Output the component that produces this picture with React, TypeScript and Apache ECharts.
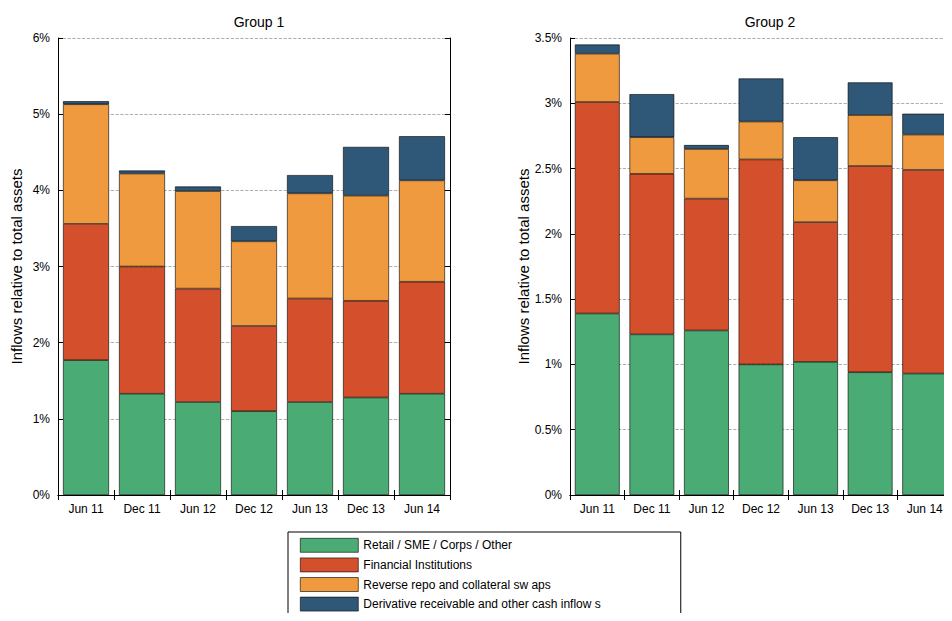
import React, { useEffect, useRef } from 'react';
import * as echarts from 'echarts';

const categories = ['Jun 11', 'Dec 11', 'Jun 12', 'Dec 12', 'Jun 13', 'Dec 13', 'Jun 14'];
const seriesNames = [
  'Retail / SME / Corps / Other',
  'Financial Institutions',
  'Reverse repo and collateral sw aps',
  'Derivative receivable and other cash inflow s',
];
const colors = ['#4aab74', '#d44f2b', '#ef9a3f', '#2e5778'];

// cumulative tops (% of total assets)
const group1Tops = [
  [1.77, 1.33, 1.22, 1.10, 1.22, 1.28, 1.33],
  [3.56, 3.00, 2.71, 2.22, 2.58, 2.55, 2.80],
  [5.13, 4.22, 3.99, 3.33, 3.96, 3.93, 4.13],
  [5.17, 4.26, 4.05, 3.53, 4.20, 4.57, 4.71],
];
const group2Tops = [
  [1.39, 1.23, 1.26, 1.00, 1.02, 0.94, 0.93],
  [3.01, 2.46, 2.27, 2.57, 2.09, 2.52, 2.49],
  [3.38, 2.74, 2.65, 2.86, 2.41, 2.91, 2.76],
  [3.45, 3.07, 2.68, 3.19, 2.74, 3.16, 2.92],
];

const toStack = (tops: number[][]) =>
  tops.map((row, i) => row.map((v, j) => +(v - (i > 0 ? tops[i - 1][j] : 0)).toFixed(3)));

const font = 'Liberation Sans, Arial, sans-serif';

const App: React.FC = () => {
  const ref = useRef<HTMLDivElement>(null);

  useEffect(() => {
    if (!ref.current) return;
    const chart = echarts.init(ref.current, undefined, { renderer: 'svg' });
    const grids = [
      { left: 58, top: 38, width: 392, height: 457 },
      { left: 570, top: 38, width: 384, height: 457 },
    ];
    const tick = { show: true, inside: true, length: 5, lineStyle: { color: '#000' } };
    const xAxis: any[] = [];
    const yAxis: any[] = [];
    [0, 1].forEach((g) => {
      xAxis.push({
        type: 'category', gridIndex: g, data: categories, position: 'bottom',
        axisLine: { lineStyle: { color: '#000' } },
        axisTick: tick,
        axisLabel: { color: '#000', fontFamily: font, fontSize: 12 },
      });
      xAxis.push({
        type: 'category', gridIndex: g, data: categories, position: 'top',
        axisLine: { show: true, lineStyle: { color: '#000' } },
        axisTick: tick,
        axisLabel: { show: false },
      });
      const max = g === 0 ? 6 : 3.5;
      const interval = g === 0 ? 1 : 0.5;
      yAxis.push({
        type: 'value', gridIndex: g, min: 0, max, interval, position: 'left',
        name: 'Inflows relative to total assets', nameLocation: 'middle', nameGap: 34,
        nameTextStyle: { color: '#000', fontFamily: font, fontSize: 15 },
        axisLine: { show: true, lineStyle: { color: '#000' } },
        axisTick: tick,
        axisLabel: { color: '#000', fontFamily: font, fontSize: 12, formatter: '{value}%' },
        splitLine: { show: true, lineStyle: { color: '#999', type: 'dashed', width: 0.8 } },
      });
      yAxis.push({
        type: 'value', gridIndex: g, min: 0, max, interval, position: 'right',
        axisLine: { show: true, lineStyle: { color: '#000' } },
        axisTick: tick,
        axisLabel: { show: false }, splitLine: { show: false },
      });
    });
    const series: any[] = [];
    [group1Tops, group2Tops].forEach((tops, g) => {
      toStack(tops).forEach((data, i) => {
        series.push({
          name: seriesNames[i], type: 'bar', stack: 'g' + g,
          xAxisIndex: g * 2, yAxisIndex: g * 2, data, barCategoryGap: '18%',
          itemStyle: { color: colors[i], borderColor: '#000', borderWidth: 0.6 },
        });
      });
    });
    chart.setOption({
      animation: false,
      backgroundColor: '#fff',
      title: [
        { text: 'Group 1', left: 254, top: 10, textAlign: 'center', textStyle: { fontFamily: font, fontSize: 14, fontWeight: 'normal', color: '#000' } },
        { text: 'Group 2', left: 765, top: 10, textAlign: 'center', textStyle: { fontFamily: font, fontSize: 14, fontWeight: 'normal', color: '#000' } },
      ],
      grid: grids,
      xAxis, yAxis, series,
      legend: {
        data: seriesNames, orient: 'vertical', left: 288, top: 532,
        itemWidth: 58, itemHeight: 14, itemGap: 5, padding: [6, 80, 6, 12],
        borderColor: '#000', borderWidth: 1, icon: 'rect',
        textStyle: { fontFamily: font, fontSize: 12, color: '#000' },
        itemStyle: { borderColor: '#000', borderWidth: 0.6 },
        selectedMode: false,
      },
    });
    return () => chart.dispose();
  }, []);

  return <div ref={ref} style={{ width: 952, height: 621, margin: -8 }} />;
};

export default App;
